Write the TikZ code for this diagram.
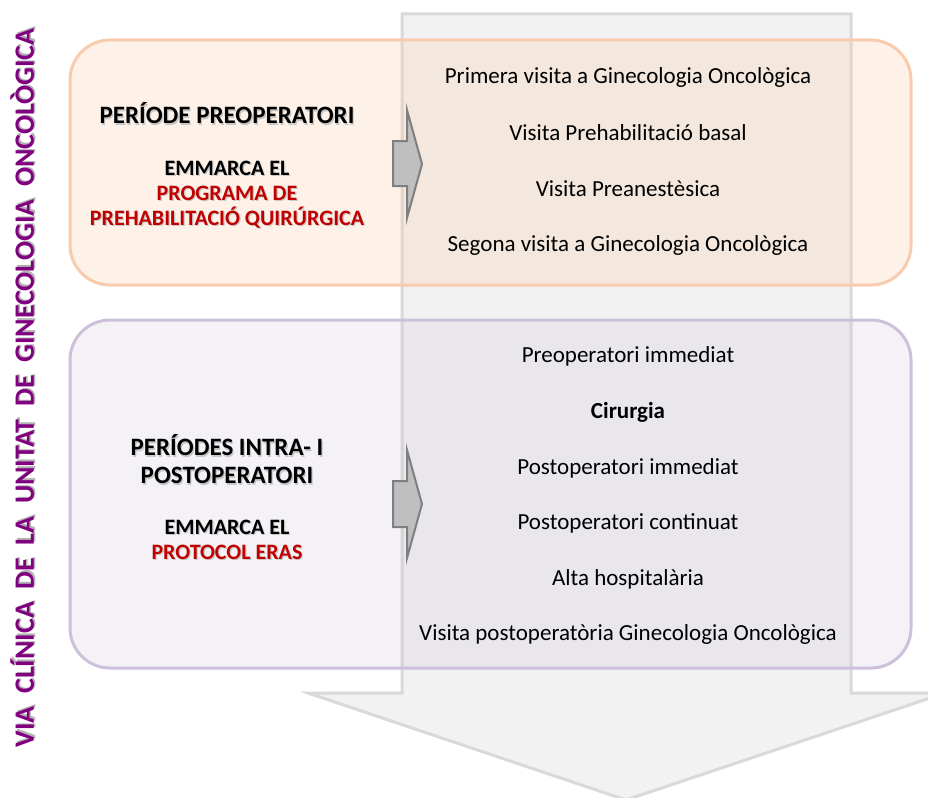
\documentclass[tikz,border=0pt]{standalone}
\usepackage{fontspec}
\setmainfont{Carlito}
\usetikzlibrary{positioning}
\definecolor{arrowline}{RGB}{217,217,217}
\definecolor{arrowfill}{RGB}{242,242,242}
\definecolor{orangeline}{RGB}{248,203,173}
\definecolor{purpleline}{RGB}{204,192,218}
\definecolor{smallfill}{RGB}{191,191,191}
\definecolor{smallline}{RGB}{127,127,127}
\definecolor{darkred}{RGB}{192,0,0}
\definecolor{titlepurple}{RGB}{128,0,128}
\newcommand\shtext[2]{\makebox[0pt][l]{\hspace{1.2pt}\raisebox{-1.2pt}{\textcolor{black!22}{#2}}}\textcolor{#1}{#2}}
\newcommand\shtitle[2]{\makebox[0pt][l]{\hspace{1.6pt}\raisebox{-1.6pt}{\textcolor{black!30}{#2}}}\textcolor{#1}{#2}}
\tikzset{
  bigarrow/.style={draw=arrowline, fill=arrowfill, line width=3pt, line join=miter},
  phasebox/.style={line width=3pt, rounded corners=40pt},
  smallarrow/.style={draw=smallline, fill=smallfill, line width=2pt, line join=miter},
  itemtext/.style={font=\fontsize{23}{26}\selectfont, text=black, inner sep=0pt},
  headtext/.style={font=\bfseries\fontsize{25}{28}\selectfont, align=center, inner sep=0pt},
  subtext/.style={font=\bfseries\fontsize{22}{25}\selectfont, align=center, inner sep=0pt},
}
\begin{document}
\begin{tikzpicture}[x=1pt,y=-1pt]
\useasboundingbox (0,0) rectangle (928,797);
% big down arrow
\draw[bigarrow] (402,14) -- (851,14) -- (851,693) -- (945,693) -- (626,800) -- (308,693) -- (402,693) -- cycle;
% phase boxes
\draw[phasebox, draw=orangeline, fill=orangeline, fill opacity=0.28] (70,40) rectangle (911,285);
\draw[phasebox, draw=purpleline, fill=purpleline, fill opacity=0.22] (70,320) rectangle (911,668);
% small arrows
\draw[smallarrow] (393,141) -- (407,141) -- (407,110) -- (422,164) -- (407,218) -- (407,186) -- (393,186) -- cycle;
\draw[smallarrow] (393,481) -- (407,481) -- (407,450) -- (422,504) -- (407,558) -- (407,527) -- (393,527) -- cycle;
% vertical title
\node[rotate=90, inner sep=0pt, font=\bfseries\fontsize{28}{30}\selectfont] (title) at (23,388)
  {\shtitle{titlepurple}{VIA\ \ CLÍNICA\ \ DE\ \ LA\ \ UNITAT\ \ DE\ \ GINECOLOGIA\ \ ONCOLÒGICA}};
% box 1 left texts
\node[headtext] (pre) at (227,114) {\shtext{black}{PERÍODE PREOPERATORI}};
\node[subtext] (pre2) at (227,195) {\shtext{black}{EMMARCA EL}\\\shtext{darkred}{PROGRAMA DE}\\\shtext{darkred}{PREHABILITACIÓ QUIRÚRGICA}};
% box 2 left texts
\node[headtext] (intra) at (227,460) {\shtext{black}{PERÍODES INTRA- I}\\\shtext{black}{POSTOPERATORI}};
\node[subtext] (intra2) at (227,540) {\shtext{black}{EMMARCA EL}\\\shtext{darkred}{PROTOCOL ERAS}};
% right items
\node[itemtext] (i1) at (628,77) {Primera visita a Ginecologia Oncològica};
\node[itemtext] (i2) at (628,133) {Visita Prehabilitació basal};
\node[itemtext] (i3) at (628,189) {Visita Preanestèsica};
\node[itemtext] (i4) at (628,245) {Segona visita a Ginecologia Oncològica};
\node[itemtext] (j1) at (628,356) {Preoperatori immediat};
\node[itemtext, font=\bfseries\fontsize{23}{26}\selectfont] (j2) at (628,412) {Cirurgia};
\node[itemtext] (j3) at (628,468) {Postoperatori immediat};
\node[itemtext] (j4) at (628,523) {Postoperatori continuat};
\node[itemtext] (j5) at (628,579) {Alta hospitalària};
\node[itemtext] (j6) at (628,634) {Visita postoperatòria Ginecologia Oncològica};
\end{tikzpicture}
\end{document}
